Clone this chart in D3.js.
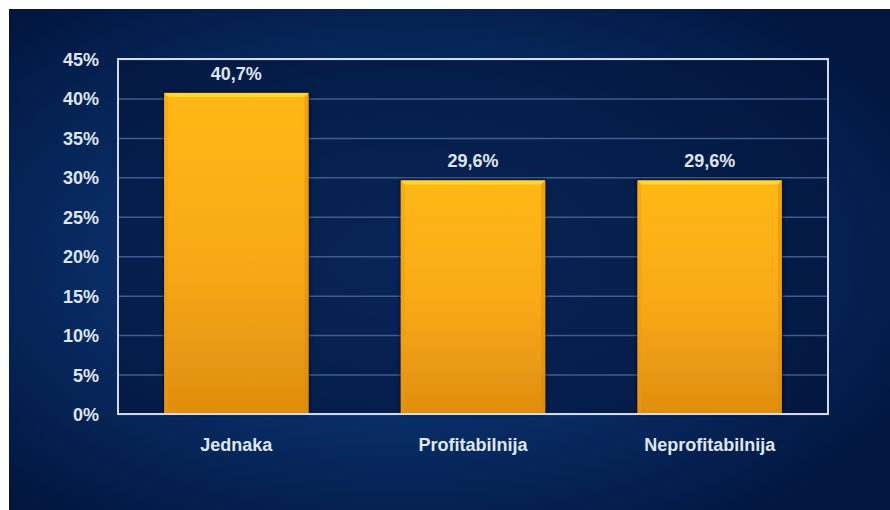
<!DOCTYPE html>
<html>
<head>
<meta charset="utf-8">
<script src="https://cdn.jsdelivr.net/npm/d3@7"></script>
<style>
  html, body { margin: 0; padding: 0; background: #ffffff; }
  svg { display: block; }
  text { font-family: "Liberation Sans", Arial, sans-serif; font-weight: bold; fill: #dfe6f0; }
</style>
</head>
<body>
<svg id="chart" width="890" height="510"></svg>
<script>
// Chart data
const categories = ["Jednaka", "Profitabilnija", "Neprofitabilnija"];
const shares = [40.7, 29.6, 29.6];
const tickValues = [0, 5, 10, 15, 20, 25, 30, 35, 40, 45];

const W = 890, H = 510;
const plot = { left: 118, top: 59, right: 828, bottom: 414 };

const svg = d3.select("#chart");
const defs = svg.append("defs");

// Navy backdrop with a soft central glow
const bg = defs.append("radialGradient").attr("id", "bgGrad")
  .attr("cx", "0.45").attr("cy", "0.5").attr("r", "0.65");
bg.append("stop").attr("offset", "0%").attr("stop-color", "#103e7e");
bg.append("stop").attr("offset", "55%").attr("stop-color", "#082b62");
bg.append("stop").attr("offset", "100%").attr("stop-color", "#021640");

// Bar body: yellow at the top fading to deeper orange
const barGrad = defs.append("linearGradient").attr("id", "barGrad")
  .attr("x1", 0).attr("y1", 0).attr("x2", 0).attr("y2", 1);
barGrad.append("stop").attr("offset", "0%").attr("stop-color", "#ffb819");
barGrad.append("stop").attr("offset", "55%").attr("stop-color", "#f8a816");
barGrad.append("stop").attr("offset", "100%").attr("stop-color", "#df8d10");

const shadow = defs.append("filter").attr("id", "barShadow")
  .attr("x", "-10%").attr("y", "-10%").attr("width", "120%").attr("height", "120%");
shadow.append("feDropShadow").attr("dx", 0).attr("dy", 0)
  .attr("stdDeviation", 2.5).attr("flood-color", "#000814").attr("flood-opacity", 0.8);

svg.append("rect").attr("x", 9).attr("y", 9).attr("width", W - 9).attr("height", H - 9)
  .attr("fill", "url(#bgGrad)");

// Scales
const x = d3.scaleBand().domain(categories)
  .range([plot.left, plot.right]).paddingInner(0.39).paddingOuter(0.195);
const y = d3.scaleLinear().domain([0, 45]).range([plot.bottom, plot.top]);

// Plot area
svg.append("rect")
  .attr("x", plot.left).attr("y", plot.top)
  .attr("width", plot.right - plot.left).attr("height", plot.bottom - plot.top)
  .attr("fill", "#041236").attr("fill-opacity", 0.55);

// Gridlines
const yGrid = d3.axisLeft(y).tickValues(tickValues)
  .tickSize(-(plot.right - plot.left)).tickFormat("");
svg.append("g").attr("transform", `translate(${plot.left},0)`).call(yGrid)
  .call(g => g.select(".domain").remove())
  .call(g => g.selectAll("line").attr("stroke", "#3e5c8e").attr("stroke-width", 1.5));

// Bars
const bevel = 4;
const bars = svg.append("g").selectAll("g").data(categories).join("g");
bars.append("rect")
  .attr("x", d => x(d)).attr("y", (d, i) => y(shares[i]))
  .attr("width", x.bandwidth()).attr("height", (d, i) => y(0) - y(shares[i]))
  .attr("fill", "url(#barGrad)").attr("filter", "url(#barShadow)");
// Bevelled top edge
bars.append("path")
  .attr("d", (d, i) => {
    const x0 = x(d), x1 = x(d) + x.bandwidth(), t = y(shares[i]), b = bevel;
    return `M${x0},${t}L${x1},${t}L${x1 - b},${t + b}L${x0 + b},${t + b}Z`;
  })
  .attr("fill", "#ffd82e");
// Bevelled side edges
bars.append("path")
  .attr("d", (d, i) => {
    const x0 = x(d), t = y(shares[i]), b = bevel, bot = y(0);
    return `M${x0},${t}L${x0 + b},${t + b}L${x0 + b},${bot}L${x0},${bot}Z`;
  })
  .attr("fill", "#e99a12").attr("fill-opacity", 0.4);
bars.append("path")
  .attr("d", (d, i) => {
    const x1 = x(d) + x.bandwidth(), t = y(shares[i]), b = bevel, bot = y(0);
    return `M${x1},${t}L${x1 - b},${t + b}L${x1 - b},${bot}L${x1},${bot}Z`;
  })
  .attr("fill", "#d98a0e").attr("fill-opacity", 0.45);

// Value labels
bars.append("text")
  .attr("x", d => x(d) + x.bandwidth() / 2)
  .attr("y", (d, i) => y(shares[i]) - 13)
  .attr("text-anchor", "middle").attr("font-size", 18)
  .text((d, i) => d3.format(".1f")(shares[i]).replace(".", ",") + "%");

// Plot frame
svg.append("rect")
  .attr("x", plot.left).attr("y", plot.top)
  .attr("width", plot.right - plot.left).attr("height", plot.bottom - plot.top)
  .attr("fill", "none").attr("stroke", "#d3dae4").attr("stroke-width", 2);

// Y axis labels
const yAxis = d3.axisLeft(y).tickValues(tickValues).tickSize(0).tickPadding(19)
  .tickFormat(d => d + "%");
svg.append("g").attr("transform", `translate(${plot.left},0)`).call(yAxis)
  .call(g => g.select(".domain").remove())
  .call(g => g.selectAll("text").attr("font-size", 18).attr("fill", "#dfe6f0")
    .attr("font-family", null).attr("dy", "0.36em"));

// X axis labels
const xAxis = d3.axisBottom(x).tickSize(0).tickPadding(24);
svg.append("g").attr("transform", `translate(0,${plot.bottom})`).call(xAxis)
  .call(g => g.select(".domain").remove())
  .call(g => g.selectAll("text").attr("font-size", 18).attr("fill", "#dfe6f0")
    .attr("font-family", null));
</script>
</body>
</html>
